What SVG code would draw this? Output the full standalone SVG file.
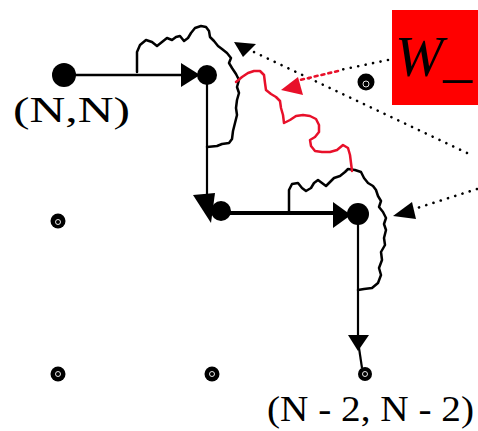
<svg xmlns="http://www.w3.org/2000/svg" width="478" height="431" viewBox="0 0 478 431">
<style>
.big{fill:#000}
.small{fill:#000}
.hole{fill:none;stroke:#fff;stroke-width:0.9}
.edge{stroke:#000;fill:none}
.wave{stroke:#000;fill:none;stroke-width:2.5;stroke-linejoin:round;stroke-linecap:round}
.rwave{stroke:#e8102a;fill:none;stroke-width:2.5;stroke-linejoin:round;stroke-linecap:round}
.dot{stroke:#000;fill:none;stroke-width:2.6;stroke-dasharray:0.1 7.5;stroke-linecap:round}
.rdot{stroke:#e8102a;fill:none;stroke-width:2.6;stroke-dasharray:3 4;stroke-linecap:round}
.lbl{font-family:"Liberation Serif","Times New Roman",serif;font-size:35px;fill:#000}
</style>
<rect width="478" height="431" fill="#fff"/>
<g id="connectors">
<line class="edge" x1="64" y1="75" x2="184" y2="75" stroke-width="2.5"/>
<polygon points="181,63 181,87 200,75" fill="#000"/>
<line class="edge" x1="207" y1="75" x2="207" y2="198" stroke-width="2.2"/>
<polygon points="193,195 215,193 211,223" fill="#000"/>
<line class="edge" x1="220" y1="213" x2="336" y2="213" stroke-width="4"/>
<polygon points="333,202 333,228 351,215" fill="#000"/>
<line class="edge" x1="358" y1="214" x2="358" y2="338" stroke-width="2.2"/>
<polygon points="348,335 369,335 358,351" fill="#000"/>
<line class="edge" x1="359" y1="348" x2="362" y2="368" stroke-width="2.2"/>
<path class="wave" d="M137,72 L137,52 L140,45 L146,40 L152,42 L157,46 L162,42 L167,38 L172,40 L176,37 L180,36 L184,41 L188,38 L191,33 L195,28 L201,26 L206,27 L209,31 L210,37 L214,41 L218,46 L222,49 L227,53 L231,58 L229,63 L232,68 L236,74 L239,80 L237,87 L239,93 L237,100 L236,108 L237,115 L235,123 L233,131 L232,139 L229,143 L222,144 L217,146 L207,147"/>
<path class="wave" d="M289,213 L289,190 L292,184 L298,183 L302,188 L306,191 L311,188 L314,183 L318,180 L322,183 L326,186 L330,182 L334,178 L340,176 L345,172 L348,169 L355,170 L361,172 L364,178 L368,183 L373,186 L376,190 L378,196 L381,201 L379,207 L383,212 L386,218 L384,224 L386,230 L384,238 L385,245 L381,252 L382,260 L379,268 L381,275 L378,283 L372,288 L364,289 L358,290"/>
<path class="rwave" d="M236,82 L242,77 L248,73 L254,71 L260,71 L264,75 L265,83 L266,90 L271,94 L276,97 L280,101 L281,108 L283,115 L284,123 L290,120 L296,116 L303,115 L310,116 L316,119 L319,125 L319,132 L315,137 L310,140 L311,146 L315,151 L322,152 L330,152 L337,150 L343,145 L348,148 L350,155 L351,163 L352,171"/>
<line class="dot" x1="467" y1="153" x2="254" y2="52"/>
<polygon points="234,42 256,44 243,57" fill="#000"/>
<line class="dot" x1="388" y1="60" x2="340" y2="70"/>
<line class="rdot" x1="338" y1="71" x2="300" y2="80"/>
<polygon points="281,90 298,77 303,95" fill="#e8102a"/>
<line class="dot" x1="477" y1="189" x2="414" y2="209"/>
<polygon points="393,216 412,202 416,219" fill="#000"/>
</g>
<g id="node-NN">
<circle class="big" cx="64" cy="75" r="12"/>
<text class="lbl" x="13" y="122" textLength="117" lengthAdjust="spacingAndGlyphs">(N,N)</text>
</g>
<g id="node-top-mid"><circle class="big" cx="207" cy="75" r="10"/></g>
<g id="node-top-right"><circle class="small" cx="366" cy="82" r="8.5"/><circle class="hole" cx="366" cy="84" r="3"/></g>
<g id="node-mid-left"><circle class="small" cx="58" cy="221" r="7.5"/><circle class="hole" cx="58" cy="222" r="2.5"/></g>
<g id="node-mid-mid"><circle class="big" cx="221" cy="211" r="10"/></g>
<g id="node-mid-right"><circle class="big" cx="358" cy="214" r="11"/></g>
<g id="node-bot-left"><circle class="small" cx="58" cy="374" r="7.5"/><circle class="hole" cx="58" cy="374" r="2.5"/></g>
<g id="node-bot-mid"><circle class="small" cx="212" cy="374" r="7.5"/><circle class="hole" cx="212" cy="374" r="2.5"/></g>
<g id="node-N2">
<circle class="small" cx="365" cy="374" r="7"/><circle class="hole" cx="365" cy="374" r="2.5"/>
<text class="lbl" x="267" y="421" textLength="207" lengthAdjust="spacingAndGlyphs">(N - 2, N - 2)</text>
</g>
<g id="label-W">
<rect x="392" y="10" width="86" height="95" fill="#ff0000"/>
<text x="395" y="76" font-family="Liberation Serif,'Times New Roman',serif" font-style="italic" font-size="58" fill="#000">W_</text>
</g>
</svg>
